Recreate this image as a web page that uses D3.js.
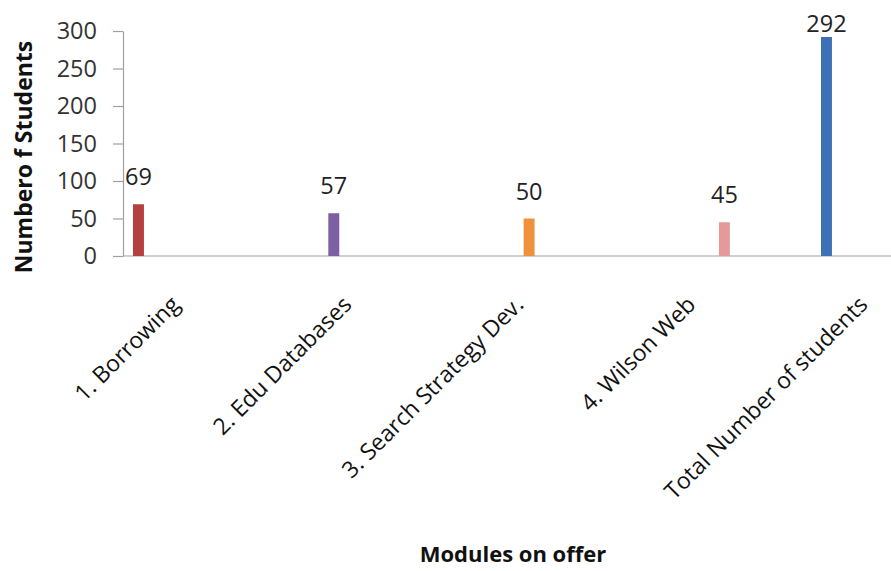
<!DOCTYPE html>
<html>
<head>
<meta charset="utf-8">
<script src="https://cdn.jsdelivr.net/npm/d3@7"></script>
<style>
  body { margin: 0; background: #fff; }
  svg { display: block; font-family: "Open Sans", sans-serif; }
</style>
</head>
<body>
<svg id="chart"></svg>
<script>
// Data
const categories = [
  "1. Borrowing",
  "2. Edu Databases",
  "3. Search Strategy Dev.",
  "4. Wilson Web",
  "Total Number of students",
];
const students = [69, 57, 50, 45, 292];
const colors = ["#b5413f", "#7e5fa2", "#f0923c", "#e59a9a", "#3c71b5"];
// series slot of each bar inside its category group
const slots = [0, 1, 2, 3, 0];
const yTicks = [0, 50, 100, 150, 200, 250, 300];

const width = 891;
const height = 571;
const margin = { top: 31, left: 123, bottom: 315 };

const svg = d3.select("#chart").attr("width", width).attr("height", height);

const y = d3
  .scaleLinear()
  .domain([0, 300])
  .range([height - margin.bottom, margin.top]);

// category bands (label anchors sit on band centres)
const x = d3.scaleBand().domain(categories).range([95, 955]);

// slots inside a category band
const inner = d3
  .scaleBand()
  .domain(d3.range(7))
  .range([38, 38 + 150.8])
  .paddingInner(0.53);

// x axis line
svg
  .append("line")
  .attr("x1", margin.left)
  .attr("x2", width)
  .attr("y1", y(0))
  .attr("y2", y(0))
  .attr("stroke", "#a0a0a0")
  .attr("stroke-width", 1.2);

// y axis
const yAxis = svg
  .append("g")
  .attr("transform", "translate(" + margin.left + ",0)")
  .call(
    d3
      .axisLeft(y)
      .tickValues(yTicks)
      .tickSize(10)
      .tickPadding(16)
      .tickSizeOuter(0)
  );
yAxis.select(".domain").attr("stroke", "#a0a0a0").attr("stroke-width", 1.2);
yAxis.selectAll(".tick line").attr("stroke", "#a0a0a0").attr("stroke-width", 1.2);
yAxis
  .selectAll(".tick text")
  .attr("fill", "#333")
  .attr("font-size", 23.5)
  .attr("font-family", "Open Sans, sans-serif");

// bars
const barX = (d, i) => x(categories[i]) + inner(slots[i]);

svg
  .append("g")
  .selectAll("rect")
  .data(students)
  .join("rect")
  .attr("x", barX)
  .attr("y", (d) => y(d))
  .attr("width", inner.bandwidth())
  .attr("height", (d) => y(0) - y(d))
  .attr("fill", (d, i) => colors[i]);

// value labels
svg
  .append("g")
  .selectAll("text")
  .data(students)
  .join("text")
  .attr("x", (d, i) => barX(d, i) + inner.bandwidth() / 2)
  .attr("y", (d) => Math.max(y(d) - 19, y(300) + 1))
  .attr("text-anchor", "middle")
  .attr("font-size", 23.5)
  .attr("fill", "#222")
  .text((d) => d);

// category labels, rotated
svg
  .append("g")
  .selectAll("text")
  .data(categories)
  .join("text")
  .attr(
    "transform",
    (d) => "translate(" + (x(d) + x.bandwidth() / 2) + "," + (y(0) + 50) + ") rotate(-45)"
  )
  .attr("text-anchor", "end")
  .attr("font-size", 23)
  .attr("fill", "#111")
  .text((d) => d);

// axis titles
svg
  .append("text")
  .attr("transform", "translate(32," + 157 + ") rotate(-90)")
  .attr("text-anchor", "middle")
  .attr("font-size", 23)
  .attr("font-weight", "bold")
  .attr("fill", "#111")
  .text("Numbero f Students");

svg
  .append("text")
  .attr("x", 513)
  .attr("y", 562)
  .attr("text-anchor", "middle")
  .attr("font-size", 22)
  .attr("font-weight", "bold")
  .attr("fill", "#111")
  .text("Modules on offer");
</script>
</body>
</html>
